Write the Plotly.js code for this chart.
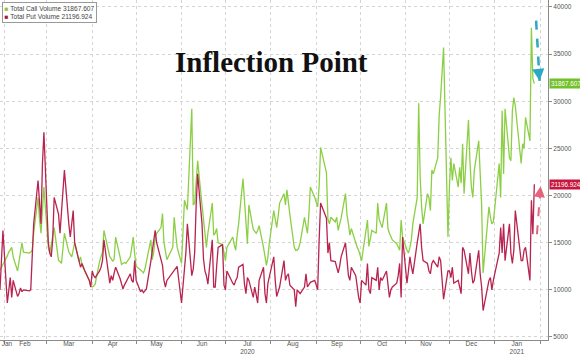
<!DOCTYPE html>
<html>
<head>
<meta charset="utf-8">
<script src="https://cdn.plot.ly/plotly-3.0.1.min.js"></script>
<style>html,body{margin:0;padding:0;background:#fff;}#chart{width:580px;height:356px;}</style>
</head>
<body>
<div id="chart"></div>
<script>
// ---- data ----
const monthKeys = ['2020-01','2020-02','2020-03','2020-04','2020-05','2020-06','2020-07','2020-08','2020-09','2020-10','2020-11','2020-12','2021-01'];
const monthDays = [
  [29,30,31],
  [3,4,5,6,7,10,11,12,13,14,18,19,20,21,24,25,26,27,28],
  [2,3,4,5,6,9,10,11,12,13,16,17,18,19,20,23,24,25,26,27,30,31],
  [1,2,3,6,7,8,9,13,14,15,16,17,20,21,22,23,24,27,28,29,30],
  [1,4,5,6,7,8,11,12,13,14,15,18,19,20,21,22,26,27,28,29],
  [1,2,3,4,5,8,9,10,11,12,15,16,17,18,19,22,23,24,25,26,29,30],
  [1,2,6,7,8,9,10,13,14,15,16,17,20,21,22,23,24,27,28,29,30,31],
  [3,4,5,6,7,10,11,12,13,14,17,18,19,20,21,24,25,26,27,28,31],
  [1,2,3,4,8,9,10,11,14,15,16,17,18,21,22,23,24,25,28,29,30],
  [1,2,5,6,7,8,9,12,13,14,15,16,19,20,21,22,23,26,27,28,29,30],
  [2,3,4,5,6,9,10,11,12,13,16,17,18,19,20,23,24,25,27,30],
  [1,2,3,4,7,8,9,10,11,14,15,16,17,18,21,22,23,24,28,29,30,31],
  [4,5,6,7,8,11,12,13,14,15,19,20,21,22,25,26,27,28]
];

const callVolume = [
  12100,12400,12600,
  13600,14000,14300,14500,13500,12000,13000,14200,15000,14000,13900,14000,14200,16000,19800,17500,16000,18500,20900,
  14500,13900,14800,15800,16600,13100,13000,12800,14500,16000,14000,13700,13500,14200,15000,13000,13500,12600,12300,12000,11000,10400,
  10300,10400,10600,13000,13600,14000,16300,13500,13300,13000,13300,15600,13500,12700,12800,12900,12800,13500,14500,15600,13800,
  12500,12100,11900,11800,12200,13000,15300,13200,14000,15500,16000,16600,18100,15000,14000,13200,14500,17700,16000,14500,
  12800,15500,19500,19000,18500,29200,19000,19200,21000,23700,19000,17400,16000,14500,16000,19200,15800,16000,16500,15000,14800,13800,
  13100,14500,15600,14800,14200,15800,17000,21800,19500,16500,14900,19000,16400,16200,16000,16300,16800,14500,13500,12600,13500,15000,
  18400,17500,16600,17800,19200,20200,19000,20600,19200,18000,14500,14200,14200,14400,15000,17700,16800,16000,18000,20900,19800,
  19300,18800,21000,25100,22400,17500,17000,17700,17200,17700,16300,17000,17600,20200,18000,17000,15800,16500,14800,14500,14200,
  13600,13100,16300,17400,14600,15500,16300,16000,19200,17500,17000,16600,19200,16500,16000,15600,15300,14900,14500,14200,17400,15600,
  14200,13900,14500,15300,17000,19800,29800,22000,18800,17000,20200,19800,18400,22700,22300,24000,28500,30500,35700,15600,
  20900,24000,21600,23400,20900,23000,21300,25500,20200,28000,23700,20900,19800,22700,25800,22300,19000,11800,18800,17700,17000,17200,
  23400,19800,29000,22300,29200,24000,23700,29000,30400,29500,23400,25500,25000,28300,25800,37800,32400,31867.607
];

const putVolume = [
  10000,12500,16300,
  8600,10000,11300,9200,11000,9300,9600,10200,9800,10000,9900,10000,14000,17000,21600,19500,17000,23400,26700,
  15000,13900,13500,15300,19800,18000,16000,18400,21500,22700,17000,15600,17000,18400,15000,13000,12400,12800,12300,12000,11000,10300,
  12000,11500,11300,12000,12400,13100,15300,10700,11500,11000,11800,12400,11200,10500,10100,10500,10800,11700,11000,10800,13100,
  11000,9800,10000,9700,9900,10100,13000,14200,15300,16300,15000,13000,12600,11000,10300,11000,11800,12000,12200,12500,
  8600,10500,11700,14000,17000,11500,12200,14000,19000,22300,17000,13300,12000,11500,10600,15300,10300,10300,12500,14500,14800,10500,
  10000,12000,10700,10500,11000,11300,12400,12700,10600,9600,11300,11000,9200,10300,9500,8600,11000,12400,9600,8600,10700,11500,
  13500,11000,9300,9800,10300,13100,11000,11500,11700,10500,10000,8200,10000,9800,9600,10300,11700,10300,10600,10800,11000,
  10500,10000,15300,19200,17600,13900,15000,13100,13000,12500,11800,12500,13500,15000,13000,11500,11000,12400,11500,10000,9200,
  8600,11000,10500,12800,10000,9600,11300,11000,12400,10000,11300,11000,12000,10500,9200,10000,10300,10700,11500,12800,9200,15600,
  10700,12000,13500,12500,11700,15000,16000,17000,14500,13100,12800,12000,11700,12800,13100,12400,13500,13100,9000,12000,
  12000,11300,12400,10700,11000,10300,9600,14500,14200,11700,13900,12000,10700,11000,14200,11700,10300,7800,11000,11300,10000,11000,
  13900,16600,13900,17000,13100,17000,13900,12800,14200,18400,13100,13100,14200,14500,11000,19500,15900,21196.924
];

const seriesNames = ['Total Call Volume', 'Total Put Volume'];
const seriesColors = ['#8ccf45', '#b8234f'];
const swatchColors = ['#8cc63f', '#a8183f'];
const labelColors = ['#72c02a', '#c8173f'];
const arrowColors = ['#2aa8c6', '#e0657d'];

const tickDates = ['2020-02-02 18:00','2020-02-15','2020-03-16','2020-04-15','2020-05-15','2020-06-15','2020-07-16','2020-08-16','2020-09-15','2020-10-16','2020-11-15','2020-12-16','2021-01-16'];
const tickText = ['Jan','Feb','Mar','Apr','May','Jun','Jul<br>2020','Aug','Sep','Oct','Nov','Dec','Jan<br>2021'];
const gridDates = ['2020-02-01','2020-03-01','2020-04-01','2020-05-01','2020-06-01','2020-07-01','2020-08-01','2020-09-01','2020-10-01','2020-11-01','2020-12-01','2021-01-01','2021-02-01'];
const xRange = ['2020-01-29', '2021-02-06 08:00'];
const yRange = [4680, 40740];
const titleText = 'Inflection Point';

// ---- build ----
const pad = n => (n < 10 ? '0' : '') + n;
const dates = [];
monthKeys.forEach((mk, i) => monthDays[i].forEach(d => dates.push(mk + '-' + pad(d))));

function shiftDate(s, days) {
  const t = new Date(s + 'T00:00:00Z');
  t.setUTCHours(t.getUTCHours() + Math.round(days * 24));
  return t.toISOString().slice(0, 16).replace('T', ' ');
}

const n = dates.length;
const lastDate = dates[n - 1];
const lastCall = callVolume[callVolume.length - 1];
const lastPut = putVolume[putVolume.length - 1];
const peakCall = Math.max(...callVolume.slice(-3));
const prevPut = putVolume[putVolume.length - 2];

const traces = [
  {x: dates, y: callVolume, type: 'scatter', mode: 'lines', name: seriesNames[0],
   line: {color: seriesColors[0], width: 1.3}, hoverinfo: 'skip'},
  {x: dates, y: putVolume, type: 'scatter', mode: 'lines', name: seriesNames[1],
   line: {color: seriesColors[1], width: 1.3}, hoverinfo: 'skip'}
];

const gridCol = '#d4d4d4';
const tickFont = {family: 'Liberation Sans, Arial, sans-serif', size: 6.5, color: '#555'};

const legendText =
  '<span style="color:' + swatchColors[0] + '">■</span> ' + seriesNames[0] + ' ' + lastCall.toFixed(3) + '<br>' +
  '<span style="color:' + swatchColors[1] + '">■</span> ' + seriesNames[1] + ' ' + lastPut.toFixed(3);

const layout = {
  width: 580, height: 356,
  margin: {l: 0, r: 32, t: 0, b: 16, pad: 0},
  paper_bgcolor: '#fff', plot_bgcolor: '#fff',
  showlegend: false,
  xaxis: {
    type: 'date', range: xRange,
    tickmode: 'array', tickvals: tickDates, ticktext: tickText,
    ticks: '', showgrid: false, zeroline: false,
    showline: true, linecolor: '#8a8a8a', linewidth: 1,
    tickfont: tickFont, ticklabelstandoff: -3, ticklabeloverflow: 'allow',
    minor: {tickmode: 'array', tickvals: gridDates, showgrid: true, gridcolor: gridCol,
            griddash: 'dot', gridwidth: 1, ticks: 'outside', ticklen: 3, tickcolor: '#8a8a8a'}
  },
  yaxis: {
    side: 'right', range: yRange,
    tickmode: 'linear', tick0: 5000, dtick: 5000, tickformat: 'd',
    showgrid: true, gridcolor: gridCol, griddash: 'dot', gridwidth: 1,
    zeroline: false, showline: true, linecolor: '#8a8a8a', linewidth: 1,
    ticks: 'outside', ticklen: 3, tickcolor: '#8a8a8a',
    tickfont: tickFont
  },
  shapes: [
    {type: 'line', xref: 'x', yref: 'y', x0: shiftDate(lastDate, 1.2), y0: peakCall * 1.02,
     x1: shiftDate(lastDate, 3.6), y1: lastCall + 300,
     line: {color: arrowColors[0], width: 2.5, dash: 'dash'}},
    {type: 'line', xref: 'x', yref: 'y', x0: shiftDate(lastDate, 1.8), y0: prevPut,
     x1: shiftDate(lastDate, 4.3), y1: lastPut - 200,
     line: {color: arrowColors[1], width: 2, dash: 'dash'}}
  ],
  annotations: [
    {xref: 'paper', yref: 'paper', x: 0.495, y: 0.818, xanchor: 'center', yanchor: 'middle',
     text: '<b>' + titleText + '</b>', showarrow: false,
     font: {family: 'Liberation Serif, Times New Roman, serif', size: 29, color: '#111'}},
    {xref: 'paper', yref: 'paper', x: 0.003, y: 0.995, xanchor: 'left', yanchor: 'top',
     text: legendText, showarrow: false, align: 'left',
     font: {family: 'Liberation Sans, Arial, sans-serif', size: 6.6, color: '#444'},
     bgcolor: '#fff', bordercolor: '#999', borderwidth: 1, borderpad: 1.5},
    {xref: 'paper', yref: 'y', x: 1, y: lastCall, xanchor: 'left', yanchor: 'middle', xshift: 1,
     text: lastCall.toFixed(3), showarrow: false,
     font: {family: 'Liberation Sans, Arial, sans-serif', size: 6.3, color: '#fff'},
     bgcolor: labelColors[0], borderpad: 1},
    {xref: 'paper', yref: 'y', x: 1, y: lastPut, xanchor: 'left', yanchor: 'middle', xshift: 1,
     text: lastPut.toFixed(3), showarrow: false,
     font: {family: 'Liberation Sans, Arial, sans-serif', size: 6.3, color: '#fff'},
     bgcolor: labelColors[1], borderpad: 1},
    {xref: 'x', yref: 'y', x: shiftDate(lastDate, 3.6), y: lastCall + 300, text: '',
     showarrow: true, ax: -1, ay: -9, arrowhead: 2, arrowsize: 1.1, arrowwidth: 2.2, arrowcolor: arrowColors[0]},
    {xref: 'x', yref: 'y', x: shiftDate(lastDate, 4.3), y: lastPut - 200, text: '',
     showarrow: true, ax: -1, ay: 9, arrowhead: 2, arrowsize: 1.1, arrowwidth: 2, arrowcolor: arrowColors[1]}
  ]
};

Plotly.newPlot('chart', traces, layout, {staticPlot: true, displayModeBar: false});
</script>
</body>
</html>
